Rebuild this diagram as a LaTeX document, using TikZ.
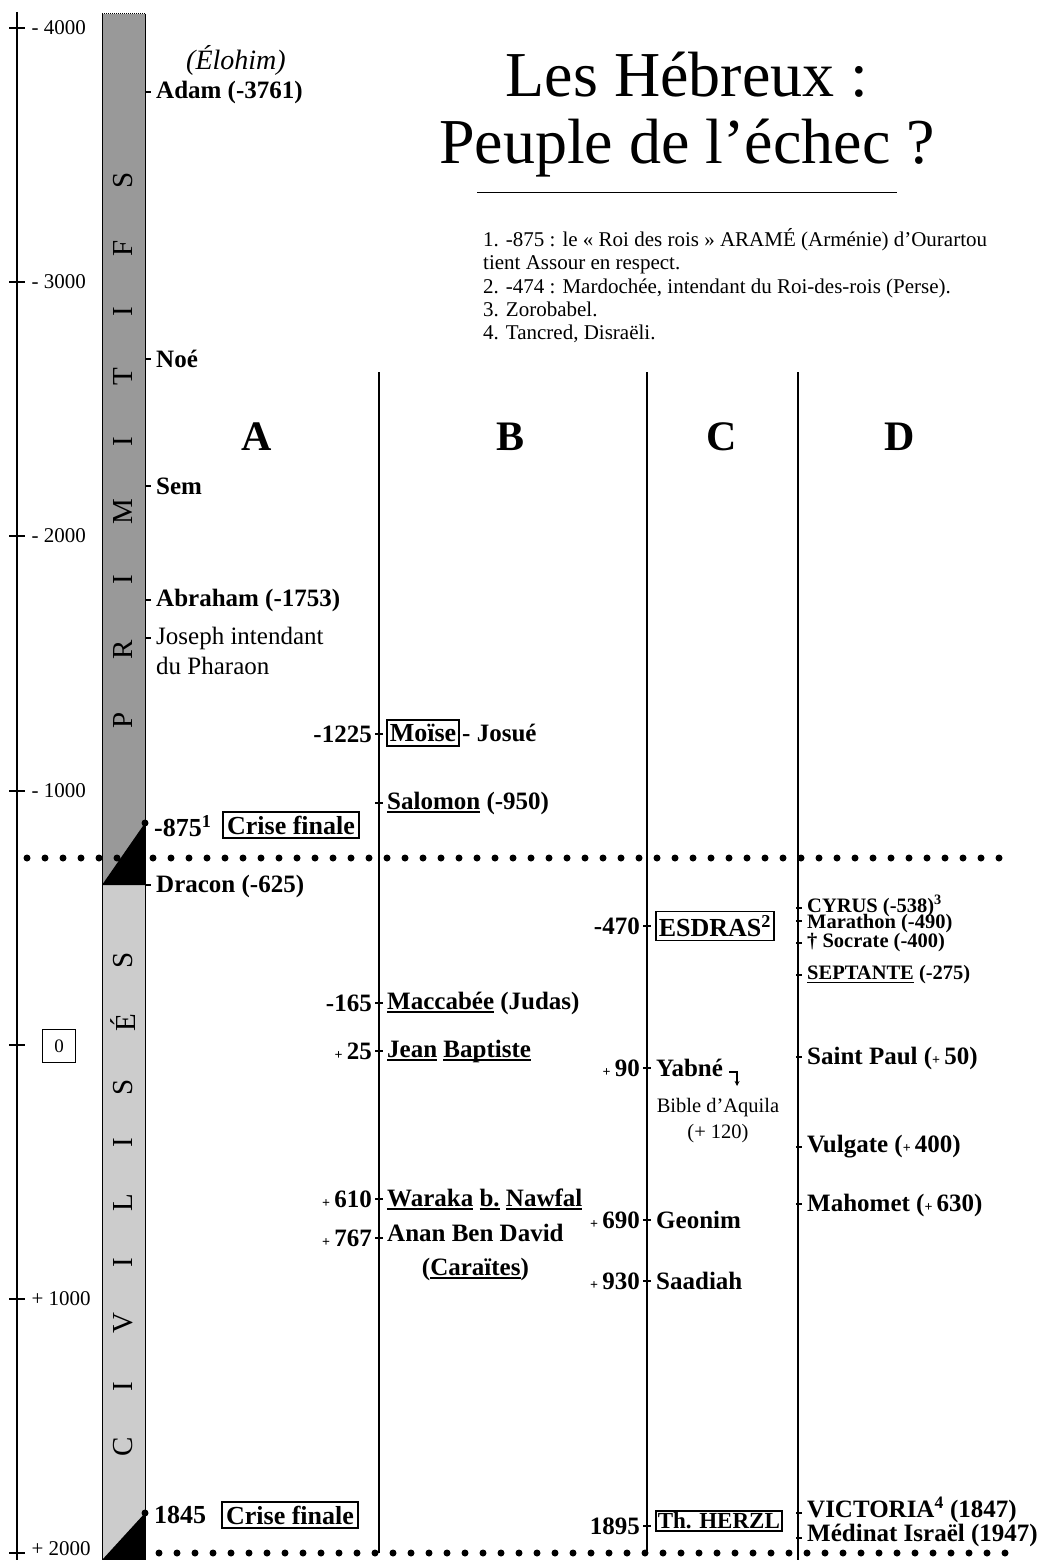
\documentclass[tikz,border=0pt]{standalone}
\usepackage{fontspec}
\setmainfont{Liberation Serif}
\usetikzlibrary{positioning,arrows.meta}

\newcommand{\fsz}[1]{\fontsize{#1}{#1}\selectfont}
\newcommand{\petitplus}{{\fontsize{14}{14}\selectfont +}\,}
\newcommand{\souligne}[1]{\setbox0\hbox{#1}\rlap{\rule[-3.5pt]{\wd0}{1.8pt}}\box0\relax}

\begin{document}
\begin{tikzpicture}[x=1pt,y=-1pt,
  evt/.style={anchor=west,inner sep=1pt,font=\fontsize{25}{30}\bfseries\selectfont},
  annee/.style={anchor=east,inner sep=1pt,font=\fontsize{25}{30}\bfseries\selectfont},
  petit/.style={anchor=west,inner sep=1pt,font=\fontsize{20.5}{20.5}\bfseries\selectfont},
  encadre/.style={draw,line width=1.6pt,inner xsep=4pt,inner ysep=4pt,
                  font=\fontsize{26}{30}\bfseries\selectfont},
  lettre/.style={rotate=90,font=\fsz{29}},
  entete/.style={font=\fontsize{42}{42}\bfseries\selectfont},
  graduation/.style={anchor=west,font=\fsz{21}},
  coche/.style={line width=2.6pt},
  colonne/.style={line width=1.6pt},
  pointille/.style={line width=7pt,line cap=round,dash pattern=on 0pt off 18pt}]

  \useasboundingbox (0,0) rectangle (1043,1560);

  % --- axe des annees ---
  \draw[line width=2pt] (17,12) -- (17,1560);
  \foreach \y/\t in {28/- 4000,282/- 3000,536/- 2000,791/- 1000,1299/+ 1000}{
    \draw[coche] (9,\y) -- (25,\y);
    \node[graduation] at (28,\y) {\t};
  }
  \draw[coche] (9,1553) -- (25,1553);
  \node[graduation] at (28,1549) {+ 2000};
  \draw[coche] (9,1045) -- (25,1045);
  \node[draw,line width=1.5pt,minimum size=33pt,inner sep=0pt,font=\fsz{19}] (zero) at (59,1046) {0};

  % --- bande primitifs / civilises ---
  \fill[gray!80] (102,14) rectangle (145,885);
  \fill[gray!40] (102,885) rectangle (145,1560);
  \fill[black] (145,823) -- (145,885) -- (102,885) -- cycle;
  \fill[black] (145,1513) -- (145,1560) -- (102,1560) -- cycle;
  \draw[line width=1pt] (102,14) -- (102,1560) (145,14) -- (145,1560);
  \draw[densely dotted,line width=1pt] (102,14) -- (145,14);
  \foreach \l/\y in {P/720,R/650,I/580,M/512,I/442,T/377,I/312,F/248,S/180}
    \node[lettre] at (123,\y) {\l};
  \foreach \l/\y in {C/1447,I/1387,V/1323,I/1263,L/1203,I/1143,S/1087,É/1023,S/960}
    \node[lettre] at (123,\y) {\l};

  % --- titre et notes ---
  \node[font=\fsz{64}] (titre1) at (687,75) {Les Hébreux :};
  \node[font=\fsz{64}] (titre2) at (687,148) {Peuple de l’échec ?};
  \draw[line width=0.8pt] (477,192) -- (897,192);
  \node[anchor=north west,inner sep=0pt,align=left,font=\fontsize{21}{23.4}\selectfont] (notes) at (483,228)
    {1. -875 : le « Roi des rois » ARAMÉ (Arménie) d’Ourartou\\
     tient Assour en respect.\\
     2. -474 : Mardochée, intendant du Roi-des-rois (Perse).\\
     3. Zorobabel.\\
     4. Tancred, Disraëli.};

  % --- colonnes ---
  \draw[colonne] (379,372) -- (379,1553);
  \draw[colonne] (647,372) -- (647,1553);
  \draw[colonne] (798,372) -- (798,1560);
  \node[entete] (colA) at (257,437) {A};
  \node[entete] (colB) at (510,437) {B};
  \node[entete] (colC) at (722,437) {C};
  \node[entete] (colD) at (900,437) {D};

  \draw[pointille] (27,858) -- (1005,858);
  \draw[pointille] (159,1553) -- (1005,1553);

  % --- colonne A ---
  \node[font=\fsz{28}\itshape] (elohim) at (236,60) {(Élohim)};
  \foreach \y in {92,359,486,600,638,885} \draw[coche] (145,\y) -- (151,\y);
  \node[evt] (adam) at (155,92) {Adam (-3761)};
  \node[evt] (noe) at (155,359) {Noé};
  \node[evt] (sem) at (155,486) {Sem};
  \node[evt] (abraham) at (155,600) {Abraham (-1753)};
  \node[anchor=north west,inner sep=1pt,align=left,font=\fontsize{25}{30}\selectfont] (joseph) at (155,626)
    {Joseph intendant\\du Pharaon};
  \fill (145,823) circle (3.5);
  \node[evt,font=\fontsize{26}{30}\bfseries\selectfont] (an875) at (153,826) {-875\textsuperscript{1}};
  \node[encadre] (crise1) at (291,825) {Crise finale};
  \node[evt] (dracon) at (155,886) {Dracon (-625)};
  \fill (145,1513) circle (3.5);
  \node[evt,font=\fontsize{26}{30}\bfseries\selectfont] (an1845) at (153,1515) {1845};
  \node[encadre] (crise2) at (290,1515) {Crise finale};

  % --- colonne B ---
  \foreach \y in {734,803,1003,1051,1199,1238} \draw[coche] (375,\y) -- (383,\y);
  \node[annee] (an1225) at (373,734) {-1225};
  \node[encadre,anchor=west,inner xsep=3pt] (moise) at (386,733) {Moïse};
  \node[evt,right=1pt of moise] (josue) {- Josué};
  \node[evt] (salomon) at (386,803) {\souligne{Salomon} (-950)};
  \node[annee] (an165) at (373,1003) {-165};
  \node[evt] (maccabee) at (386,1003) {\souligne{Maccabée} (Judas)};
  \node[annee] (an25) at (373,1051) {\petitplus 25};
  \node[evt] (jean) at (386,1051) {\souligne{Jean} \souligne{Baptiste}};
  \node[annee] (an610) at (373,1199) {\petitplus 610};
  \node[evt] (waraka) at (386,1199) {\souligne{Waraka} \souligne{b.} \souligne{Nawfal}};
  \node[annee] (an767) at (373,1238) {\petitplus 767};
  \node[anchor=north west,inner sep=1pt,align=center,font=\fontsize{25}{34}\bfseries\selectfont] (anan) at (386,1223)
    {Anan Ben David\\(\souligne{Caraïtes})};

  % --- colonne C ---
  \foreach \y in {926,1068,1220,1281,1526} \draw[coche] (643,\y) -- (651,\y);
  \node[annee] (an470) at (641,926) {-470};
  \node[encadre,anchor=west,inner xsep=3pt] (esdras) at (655,926) {ESDRAS\textsuperscript{2}};
  \node[annee] (an90) at (641,1068) {\petitplus 90};
  \node[evt] (yabne) at (655,1068) {Yabné};
  \draw[-{Stealth[length=5pt,width=5pt]},line width=1.2pt] ([xshift=5pt,yshift=-4pt]yabne.east) -- ++(8,0) -- ++(0,14);
  \node[align=center,font=\fontsize{20.5}{26}\selectfont] (aquila) at (718,1121) {Bible d’Aquila\\(+ 120)};
  \node[annee] (an690) at (641,1220) {\petitplus 690};
  \node[evt] (geonim) at (655,1220) {Geonim};
  \node[annee] (an930) at (641,1281) {\petitplus 930};
  \node[evt] (saadiah) at (655,1281) {Saadiah};
  \node[annee] (an1895) at (641,1526) {1895};
  \node[encadre,anchor=west,inner xsep=2pt,inner ysep=2pt,font=\fontsize{23}{26}\bfseries\selectfont] (herzl) at (655,1521) {Th. HERZL};

  % --- colonne D ---
  \foreach \y in {908,921,943,975,1057,1147,1204,1513,1538} \draw[coche] (796,\y) -- (802,\y);
  \node[petit] (cyrus) at (806,906) {CYRUS (-538)\textsuperscript{3}};
  \node[petit] (marathon) at (806,924) {Marathon (-490)};
  \node[petit] (socrate) at (806,943) {† Socrate (-400)};
  \node[petit] (septante) at (806,975) {\souligne{SEPTANTE} (-275)};
  \node[evt] (paul) at (806,1058) {Saint Paul (\petitplus 50)};
  \node[evt] (vulgate) at (806,1147) {Vulgate (\petitplus 400)};
  \node[evt] (mahomet) at (806,1205) {Mahomet (\petitplus 630)};
  \node[evt] (victoria) at (806,1510) {VICTORIA\textsuperscript{4} (1847)};
  \node[evt] (medinat) at (806,1535) {Médinat Israël (1947)};
\end{tikzpicture}
\end{document}
